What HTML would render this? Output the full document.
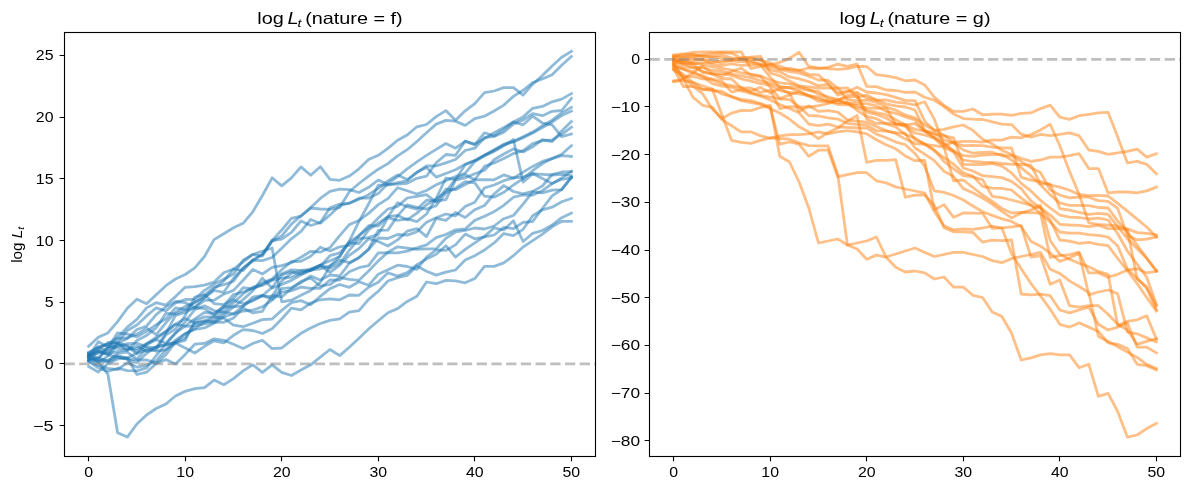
<!DOCTYPE html><html><head><meta charset="utf-8"><style>html,body{margin:0;padding:0;background:#fff;width:1189px;height:490px;overflow:hidden}svg{display:block;will-change:transform}</style></head><body>
<svg width="1189" height="490" viewBox="0 0 1189 490" font-family='"Liberation Sans", sans-serif'>
<rect width="1189" height="490" fill="#fff"/>
<g fill="none" stroke="#1f77b4" stroke-opacity="0.5" stroke-width="2.78" stroke-linejoin="round" stroke-linecap="square">
<path d="M88.6 346.3 L98.3 337.3 L107.9 332.9 L117.6 321.6 L127.3 308.2 L136.9 299.2 L146.6 303.7 L156.2 294.7 L165.9 285.7 L175.5 279.0 L185.2 274.5 L194.8 267.8 L204.5 256.5 L214.1 239.6 L223.8 233.7 L233.5 227.8 L243.1 223.3 L252.8 211.8 L262.4 195.5 L272.1 177.8 L281.7 185.9 L291.4 177.9 L301.0 166.9 L310.7 175.2 L320.3 166.7 L330.0 179.4 L339.7 180.3 L349.3 176.1 L359.0 168.8 L368.6 159.6 L378.3 155.3 L387.9 148.4 L397.6 140.2 L407.2 135.0 L416.9 126.8 L426.5 124.5 L436.2 116.6 L445.9 110.6 L455.5 120.2 L465.2 110.8 L474.8 103.6 L484.5 92.7 L494.1 91.0 L503.8 87.6 L513.4 87.7 L523.1 95.2 L532.7 84.2 L542.4 75.6 L552.1 66.0 L561.7 57.3 L571.4 51.3"/>
<path d="M88.6 352.4 L98.3 347.4 L107.9 344.2 L117.6 337.5 L127.3 327.1 L136.9 319.4 L146.6 307.9 L156.2 302.7 L165.9 305.1 L175.5 296.6 L185.2 287.3 L194.8 286.6 L204.5 285.1 L214.1 282.1 L223.8 272.8 L233.5 269.0 L243.1 270.5 L252.8 259.8 L262.4 254.4 L272.1 240.4 L281.7 230.0 L291.4 218.3 L301.0 216.2 L310.7 208.0 L320.3 209.0 L330.0 209.3 L339.7 207.5 L349.3 191.7 L359.0 183.5 L368.6 176.1 L378.3 169.2 L387.9 163.6 L397.6 155.8 L407.2 149.7 L416.9 141.5 L426.5 132.8 L436.2 124.1 L445.9 120.4 L455.5 121.2 L465.2 125.4 L474.8 118.6 L484.5 116.2 L494.1 111.0 L503.8 105.1 L513.4 96.4 L523.1 90.3 L532.7 82.5 L542.4 79.0 L552.1 74.7 L561.7 65.2 L571.4 56.5"/>
<path d="M88.6 353.0 L98.3 347.1 L107.9 344.2 L117.6 342.3 L127.3 330.5 L136.9 325.0 L146.6 315.9 L156.2 307.8 L165.9 311.0 L175.5 302.9 L185.2 299.5 L194.8 299.3 L204.5 290.3 L214.1 284.1 L223.8 279.2 L233.5 274.1 L243.1 260.3 L252.8 254.4 L262.4 256.1 L272.1 240.5 L281.7 239.2 L291.4 232.4 L301.0 221.0 L310.7 225.5 L320.3 222.5 L330.0 207.8 L339.7 204.1 L349.3 203.4 L359.0 198.2 L368.6 198.1 L378.3 193.6 L387.9 183.5 L397.6 176.6 L407.2 168.8 L416.9 161.9 L426.5 155.4 L436.2 149.4 L445.9 143.5 L455.5 148.2 L465.2 141.3 L474.8 144.1 L484.5 138.6 L494.1 132.7 L503.8 127.6 L513.4 122.0 L523.1 116.9 L532.7 108.3 L542.4 106.4 L552.1 101.8 L561.7 99.1 L571.4 93.6"/>
<path d="M88.6 353.5 L98.3 351.3 L107.9 353.8 L117.6 343.5 L127.3 338.5 L136.9 329.5 L146.6 326.0 L156.2 314.6 L165.9 306.9 L175.5 301.5 L185.2 302.6 L194.8 307.4 L204.5 297.3 L214.1 290.5 L223.8 292.3 L233.5 278.2 L243.1 268.2 L252.8 260.3 L262.4 260.6 L272.1 257.5 L281.7 248.2 L291.4 238.8 L301.0 231.4 L310.7 219.5 L320.3 223.2 L330.0 214.9 L339.7 205.7 L349.3 203.0 L359.0 199.3 L368.6 194.7 L378.3 188.3 L387.9 180.9 L397.6 174.9 L407.2 179.5 L416.9 172.4 L426.5 166.0 L436.2 165.9 L445.9 162.9 L455.5 159.5 L465.2 150.5 L474.8 148.2 L484.5 137.5 L494.1 136.4 L503.8 132.3 L513.4 124.1 L523.1 120.0 L532.7 113.7 L542.4 115.7 L552.1 111.3 L561.7 110.5 L571.4 98.5"/>
<path d="M88.6 354.1 L98.3 357.7 L107.9 349.1 L117.6 338.3 L127.3 338.0 L136.9 334.1 L146.6 328.2 L156.2 334.7 L165.9 322.8 L175.5 312.1 L185.2 306.4 L194.8 302.7 L204.5 295.0 L214.1 287.1 L223.8 284.7 L233.5 281.2 L243.1 268.2 L252.8 260.9 L262.4 254.4 L272.1 241.2 L281.7 236.0 L291.4 224.1 L301.0 215.8 L310.7 207.6 L320.3 198.4 L330.0 191.4 L339.7 189.2 L349.3 189.6 L359.0 192.5 L368.6 187.3 L378.3 180.0 L387.9 184.4 L397.6 184.2 L407.2 183.3 L416.9 178.3 L426.5 176.2 L436.2 162.8 L445.9 154.5 L455.5 155.3 L465.2 141.1 L474.8 144.7 L484.5 132.8 L494.1 135.9 L503.8 129.4 L513.4 122.0 L523.1 124.8 L532.7 116.2 L542.4 123.0 L552.1 124.8 L561.7 136.7 L571.4 134.0"/>
<path d="M88.6 354.7 L98.3 353.3 L107.9 348.0 L117.6 332.8 L127.3 334.2 L136.9 336.8 L146.6 331.4 L156.2 324.7 L165.9 318.8 L175.5 307.9 L185.2 309.5 L194.8 302.1 L204.5 297.7 L214.1 288.8 L223.8 281.0 L233.5 269.2 L243.1 261.8 L252.8 254.5 L262.4 251.2 L272.1 248.0 L281.7 301.8 L291.4 300.2 L301.0 295.3 L310.7 290.4 L320.3 282.5 L330.0 266.1 L339.7 256.4 L349.3 241.1 L359.0 221.4 L368.6 204.0 L378.3 185.2 L387.9 185.1 L397.6 182.7 L407.2 180.8 L416.9 172.3 L426.5 167.4 L436.2 177.1 L445.9 173.5 L455.5 169.8 L465.2 164.3 L474.8 160.6 L484.5 155.1 L494.1 149.6 L503.8 144.1 L513.4 141.3 L523.1 136.7 L532.7 132.1 L542.4 125.7 L552.1 120.2 L561.7 112.9 L571.4 107.3"/>
<path d="M88.6 355.3 L98.3 350.0 L107.9 342.5 L117.6 343.2 L127.3 350.5 L136.9 340.5 L146.6 335.4 L156.2 327.8 L165.9 313.4 L175.5 314.0 L185.2 310.0 L194.8 307.6 L204.5 300.3 L214.1 300.2 L223.8 294.1 L233.5 290.4 L243.1 280.3 L252.8 269.5 L262.4 274.0 L272.1 267.4 L281.7 265.7 L291.4 262.7 L301.0 257.2 L310.7 251.3 L320.3 252.2 L330.0 247.6 L339.7 235.6 L349.3 224.6 L359.0 220.5 L368.6 213.4 L378.3 204.6 L387.9 198.6 L397.6 187.7 L407.2 190.8 L416.9 194.0 L426.5 190.5 L436.2 184.8 L445.9 180.6 L455.5 176.6 L465.2 173.2 L474.8 161.5 L484.5 156.0 L494.1 150.5 L503.8 145.0 L513.4 141.9 L523.1 137.7 L532.7 133.1 L542.4 127.6 L552.1 122.0 L561.7 115.6 L571.4 111.0"/>
<path d="M88.6 355.9 L98.3 359.4 L107.9 346.4 L117.6 346.1 L127.3 343.6 L136.9 343.3 L146.6 346.8 L156.2 347.9 L165.9 333.3 L175.5 315.4 L185.2 312.5 L194.8 307.5 L204.5 308.6 L214.1 314.8 L223.8 306.0 L233.5 294.5 L243.1 292.0 L252.8 288.3 L262.4 282.8 L272.1 279.0 L281.7 269.8 L291.4 261.5 L301.0 261.3 L310.7 256.3 L320.3 247.2 L330.0 251.0 L339.7 246.8 L349.3 245.4 L359.0 235.7 L368.6 227.9 L378.3 218.1 L387.9 209.0 L397.6 206.4 L407.2 198.0 L416.9 196.3 L426.5 194.6 L436.2 202.1 L445.9 189.1 L455.5 189.7 L465.2 184.5 L474.8 179.8 L484.5 166.4 L494.1 162.9 L503.8 158.6 L513.4 153.6 L523.1 150.7 L532.7 143.6 L542.4 140.7 L552.1 140.0 L561.7 134.3 L571.4 127.1"/>
<path d="M88.6 356.4 L98.3 351.6 L107.9 354.0 L117.6 351.4 L127.3 349.8 L136.9 346.0 L146.6 351.3 L156.2 349.6 L165.9 334.8 L175.5 329.0 L185.2 315.6 L194.8 297.0 L204.5 294.7 L214.1 303.6 L223.8 304.7 L233.5 298.6 L243.1 287.6 L252.8 289.0 L262.4 284.6 L272.1 279.6 L281.7 273.9 L291.4 269.8 L301.0 270.3 L310.7 269.3 L320.3 266.3 L330.0 255.7 L339.7 252.9 L349.3 242.8 L359.0 243.5 L368.6 229.9 L378.3 223.2 L387.9 216.9 L397.6 202.7 L407.2 206.7 L416.9 209.2 L426.5 200.2 L436.2 201.1 L445.9 199.6 L455.5 180.1 L465.2 177.8 L474.8 173.7 L484.5 170.2 L494.1 159.7 L503.8 154.0 L513.4 148.9 L523.1 152.0 L532.7 146.8 L542.4 139.6 L552.1 141.6 L561.7 131.0 L571.4 121.5"/>
<path d="M88.6 357.0 L98.3 341.7 L107.9 346.7 L117.6 348.1 L127.3 349.2 L136.9 348.8 L146.6 343.5 L156.2 338.9 L165.9 331.4 L175.5 324.2 L185.2 318.6 L194.8 323.0 L204.5 321.7 L214.1 316.6 L223.8 308.5 L233.5 300.0 L243.1 303.8 L252.8 300.9 L262.4 295.5 L272.1 287.5 L281.7 275.0 L291.4 271.8 L301.0 274.2 L310.7 269.1 L320.3 264.9 L330.0 260.8 L339.7 256.5 L349.3 242.0 L359.0 235.7 L368.6 225.6 L378.3 226.0 L387.9 216.6 L397.6 215.4 L407.2 219.8 L416.9 213.1 L426.5 204.8 L436.2 198.9 L445.9 191.9 L455.5 179.0 L465.2 174.7 L474.8 179.8 L484.5 179.6 L494.1 179.8 L503.8 174.9 L513.4 178.2 L523.1 172.1 L532.7 166.4 L542.4 161.4 L552.1 158.6 L561.7 155.7 L571.4 156.4"/>
<path d="M88.6 357.6 L98.3 347.5 L107.9 351.7 L117.6 342.8 L127.3 345.8 L136.9 351.5 L146.6 344.7 L156.2 339.7 L165.9 343.1 L175.5 333.6 L185.2 321.7 L194.8 309.6 L204.5 305.8 L214.1 310.6 L223.8 312.4 L233.5 302.7 L243.1 293.9 L252.8 287.2 L262.4 285.3 L272.1 280.4 L281.7 278.0 L291.4 277.3 L301.0 273.0 L310.7 270.2 L320.3 268.9 L330.0 265.9 L339.7 260.2 L349.3 262.7 L359.0 257.5 L368.6 249.1 L378.3 230.3 L387.9 230.1 L397.6 215.8 L407.2 204.8 L416.9 207.4 L426.5 209.1 L436.2 205.7 L445.9 192.9 L455.5 188.2 L465.2 181.6 L474.8 182.9 L484.5 196.2 L494.1 197.2 L503.8 192.3 L513.4 185.0 L523.1 178.6 L532.7 170.7 L542.4 163.6 L552.1 158.6 L561.7 154.3 L571.4 145.7"/>
<path d="M88.6 358.1 L98.3 359.7 L107.9 360.5 L117.6 355.5 L127.3 358.0 L136.9 353.0 L146.6 350.4 L156.2 347.4 L165.9 344.7 L175.5 332.5 L185.2 326.3 L194.8 325.9 L204.5 324.0 L214.1 322.4 L223.8 315.0 L233.5 306.7 L243.1 306.2 L252.8 299.8 L262.4 295.9 L272.1 296.6 L281.7 281.0 L291.4 273.2 L301.0 271.2 L310.7 270.5 L320.3 265.1 L330.0 268.2 L339.7 263.5 L349.3 250.3 L359.0 238.7 L368.6 237.6 L378.3 234.4 L387.9 217.7 L397.6 220.5 L407.2 218.8 L416.9 221.6 L426.5 214.0 L436.2 198.5 L445.9 178.0 L455.5 179.6 L465.2 164.8 L474.8 160.6 L484.5 155.1 L494.1 151.4 L503.8 145.9 L513.4 139.5 L523.1 182.1 L532.7 173.6 L542.4 178.6 L552.1 183.6 L561.7 179.3 L571.4 177.9"/>
<path d="M88.6 359.7 L98.3 358.0 L107.9 361.1 L117.6 353.3 L127.3 352.1 L136.9 359.2 L146.6 348.2 L156.2 351.2 L165.9 349.8 L175.5 340.1 L185.2 333.6 L194.8 329.5 L204.5 327.9 L214.1 323.3 L223.8 317.0 L233.5 313.8 L243.1 306.2 L252.8 297.1 L262.4 295.4 L272.1 299.3 L281.7 288.7 L291.4 287.7 L301.0 282.8 L310.7 276.0 L320.3 280.1 L330.0 275.0 L339.7 276.0 L349.3 263.4 L359.0 257.8 L368.6 249.5 L378.3 238.0 L387.9 238.5 L397.6 234.5 L407.2 235.1 L416.9 231.8 L426.5 222.3 L436.2 217.7 L445.9 214.0 L455.5 215.8 L465.2 206.4 L474.8 202.2 L484.5 187.9 L494.1 185.0 L503.8 180.7 L513.4 177.9 L523.1 177.1 L532.7 173.6 L542.4 174.3 L552.1 175.0 L561.7 174.3 L571.4 175.7"/>
<path d="M88.6 358.3 L98.3 362.4 L107.9 356.1 L117.6 345.4 L127.3 346.2 L136.9 354.0 L146.6 344.2 L156.2 337.0 L165.9 331.8 L175.5 324.4 L185.2 326.0 L194.8 318.9 L204.5 312.3 L214.1 313.5 L223.8 306.7 L233.5 307.0 L243.1 299.6 L252.8 290.8 L262.4 278.2 L272.1 287.9 L281.7 284.4 L291.4 280.4 L301.0 274.8 L310.7 270.4 L320.3 265.3 L330.0 272.3 L339.7 265.3 L349.3 255.3 L359.0 248.5 L368.6 238.7 L378.3 241.5 L387.9 246.0 L397.6 239.9 L407.2 231.2 L416.9 228.6 L426.5 236.6 L436.2 218.4 L445.9 220.3 L455.5 212.5 L465.2 217.5 L474.8 209.7 L484.5 205.5 L494.1 194.0 L503.8 185.6 L513.4 191.5 L523.1 193.9 L532.7 191.4 L542.4 186.0 L552.1 174.5 L561.7 172.0 L571.4 171.7"/>
<path d="M88.6 359.9 L98.3 361.1 L107.9 362.2 L117.6 357.2 L127.3 358.5 L136.9 360.0 L146.6 359.9 L156.2 363.3 L165.9 354.6 L175.5 342.1 L185.2 333.9 L194.8 328.5 L204.5 322.2 L214.1 320.1 L223.8 312.0 L233.5 313.9 L243.1 311.0 L252.8 310.2 L262.4 306.8 L272.1 300.1 L281.7 292.1 L291.4 290.6 L301.0 287.1 L310.7 288.4 L320.3 288.3 L330.0 280.0 L339.7 280.1 L349.3 271.7 L359.0 267.7 L368.6 265.6 L378.3 252.8 L387.9 252.6 L397.6 252.8 L407.2 251.1 L416.9 247.8 L426.5 244.8 L436.2 237.6 L445.9 234.5 L455.5 229.8 L465.2 229.0 L474.8 220.4 L484.5 216.3 L494.1 211.7 L503.8 205.3 L513.4 197.2 L523.1 195.0 L532.7 195.0 L542.4 190.7 L552.1 183.6 L561.7 177.9 L571.4 171.4"/>
<path d="M88.6 360.5 L98.3 351.2 L107.9 354.8 L117.6 357.0 L127.3 359.5 L136.9 362.6 L146.6 353.3 L156.2 346.4 L165.9 344.9 L175.5 342.1 L185.2 338.0 L194.8 323.2 L204.5 320.7 L214.1 322.0 L223.8 322.3 L233.5 318.0 L243.1 308.0 L252.8 312.9 L262.4 311.3 L272.1 295.4 L281.7 297.0 L291.4 288.6 L301.0 281.3 L310.7 278.0 L320.3 286.2 L330.0 284.5 L339.7 277.5 L349.3 279.3 L359.0 280.3 L368.6 271.0 L378.3 260.9 L387.9 252.2 L397.6 246.8 L407.2 248.2 L416.9 249.4 L426.5 248.9 L436.2 248.9 L445.9 238.3 L455.5 232.0 L465.2 230.5 L474.8 228.0 L484.5 229.0 L494.1 226.0 L503.8 218.7 L513.4 215.5 L523.1 204.1 L532.7 191.8 L542.4 192.9 L552.1 190.2 L561.7 189.6 L571.4 177.0"/>
<path d="M88.6 361.0 L98.3 365.4 L107.9 368.3 L117.6 369.6 L127.3 362.6 L136.9 367.1 L146.6 365.4 L156.2 360.6 L165.9 350.0 L175.5 342.8 L185.2 340.3 L194.8 320.7 L204.5 316.9 L214.1 317.0 L223.8 318.1 L233.5 325.2 L243.1 326.7 L252.8 323.2 L262.4 319.6 L272.1 319.0 L281.7 310.4 L291.4 302.7 L301.0 300.6 L310.7 304.8 L320.3 296.4 L330.0 288.6 L339.7 284.5 L349.3 287.3 L359.0 281.8 L368.6 285.3 L378.3 274.2 L387.9 269.7 L397.6 265.2 L407.2 266.5 L416.9 269.4 L426.5 257.0 L436.2 249.9 L445.9 250.4 L455.5 244.9 L465.2 234.1 L474.8 238.8 L484.5 236.9 L494.1 235.0 L503.8 227.3 L513.4 228.7 L523.1 222.4 L532.7 221.5 L542.4 208.5 L552.1 195.8 L561.7 189.5 L571.4 177.8"/>
<path d="M88.6 361.6 L98.3 367.8 L107.9 371.5 L117.6 368.2 L127.3 370.7 L136.9 370.8 L146.6 367.8 L156.2 355.5 L165.9 344.3 L175.5 343.1 L185.2 348.0 L194.8 353.0 L204.5 346.4 L214.1 340.8 L223.8 343.0 L233.5 335.3 L243.1 329.6 L252.8 330.5 L262.4 333.5 L272.1 328.7 L281.7 319.0 L291.4 308.1 L301.0 309.8 L310.7 303.0 L320.3 299.8 L330.0 298.8 L339.7 299.8 L349.3 295.0 L359.0 295.3 L368.6 287.2 L378.3 282.3 L387.9 272.7 L397.6 276.1 L407.2 272.5 L416.9 264.6 L426.5 259.1 L436.2 254.3 L445.9 245.7 L455.5 257.1 L465.2 249.3 L474.8 242.9 L484.5 236.4 L494.1 227.9 L503.8 230.0 L513.4 220.7 L523.1 241.5 L532.7 233.3 L542.4 230.5 L552.1 225.0 L561.7 217.7 L571.4 213.1"/>
<path d="M88.6 366.5 L98.3 372.0 L107.9 363.8 L117.6 358.9 L127.3 358.0 L136.9 374.5 L146.6 372.2 L156.2 363.4 L165.9 359.6 L175.5 363.9 L185.2 354.4 L194.8 344.2 L204.5 343.4 L214.1 338.8 L223.8 340.3 L233.5 344.3 L243.1 348.6 L252.8 343.4 L262.4 340.3 L272.1 348.6 L281.7 348.0 L291.4 340.3 L301.0 333.3 L310.7 328.1 L320.3 323.5 L330.0 320.4 L339.7 318.8 L349.3 312.2 L359.0 310.6 L368.6 299.4 L378.3 291.2 L387.9 281.0 L397.6 277.7 L407.2 275.4 L416.9 266.0 L426.5 271.2 L436.2 275.1 L445.9 272.2 L455.5 270.0 L465.2 260.0 L474.8 255.7 L484.5 250.0 L494.1 242.9 L503.8 233.6 L513.4 235.7 L523.1 229.3 L532.7 215.8 L542.4 209.8 L552.1 207.2 L561.7 201.7 L571.4 198.4"/>
<path d="M88.6 356.0 L98.3 362.0 L107.9 374.3 L117.6 432.7 L127.3 437.1 L136.9 424.0 L146.6 415.0 L156.2 408.5 L165.9 404.0 L175.5 396.0 L185.2 391.3 L194.8 388.7 L204.5 387.6 L214.1 380.1 L223.8 384.7 L233.5 378.6 L243.1 370.9 L252.8 364.8 L262.4 372.4 L272.1 364.8 L281.7 372.4 L291.4 375.5 L301.0 370.0 L310.7 364.8 L320.3 357.1 L330.0 349.5 L339.7 355.6 L349.3 347.3 L359.0 338.2 L368.6 329.0 L378.3 320.8 L387.9 312.7 L397.6 308.6 L407.2 301.4 L416.9 296.3 L426.5 282.0 L436.2 283.7 L445.9 280.4 L455.5 280.9 L465.2 282.8 L474.8 278.6 L484.5 266.4 L494.1 266.4 L503.8 262.9 L513.4 255.7 L523.1 247.0 L532.7 240.6 L542.4 234.2 L552.1 226.8 L561.7 221.3 L571.4 221.3"/>
</g>
<g fill="none" stroke="#ff7f0e" stroke-opacity="0.5" stroke-width="2.78" stroke-linejoin="round" stroke-linecap="square">
<path d="M673.6 55.0 L683.3 54.0 L692.9 52.4 L702.6 52.0 L712.3 52.0 L721.9 52.0 L731.6 52.0 L741.2 52.0 L750.9 68.6 L760.5 66.5 L770.2 64.5 L779.8 62.4 L789.5 58.4 L799.1 52.2 L808.8 66.5 L818.5 67.8 L828.1 68.6 L837.8 69.4 L847.4 68.6 L857.1 66.5 L866.7 66.5 L876.4 74.7 L886.0 75.9 L895.7 77.6 L905.3 80.8 L915.0 80.0 L924.7 84.9 L934.3 97.1 L944.0 105.3 L953.6 111.4 L963.3 111.3 L972.9 109.0 L982.6 114.8 L992.2 114.1 L1001.9 114.1 L1011.5 115.4 L1021.2 113.4 L1030.9 112.9 L1040.5 108.6 L1050.2 105.1 L1059.8 117.1 L1069.5 119.4 L1079.1 115.7 L1088.8 114.3 L1098.4 112.9 L1108.1 112.3 L1117.7 137.1 L1127.4 162.9 L1137.1 161.4 L1146.7 164.3 L1156.4 173.7"/>
<path d="M673.6 55.8 L683.3 57.1 L692.9 56.9 L702.6 54.9 L712.3 53.7 L721.9 52.6 L731.6 53.3 L741.2 57.9 L750.9 57.8 L760.5 60.2 L770.2 62.9 L779.8 69.3 L789.5 68.3 L799.1 70.3 L808.8 68.0 L818.5 68.6 L828.1 67.3 L837.8 64.1 L847.4 66.4 L857.1 64.0 L866.7 86.4 L876.4 86.6 L886.0 90.0 L895.7 90.5 L905.3 92.3 L915.0 92.0 L924.7 97.2 L934.3 100.3 L944.0 106.6 L953.6 114.1 L963.3 118.6 L972.9 119.2 L982.6 119.5 L992.2 121.8 L1001.9 124.2 L1011.5 124.6 L1021.2 134.2 L1030.9 137.1 L1040.5 134.3 L1050.2 135.7 L1059.8 134.3 L1069.5 132.9 L1079.1 135.7 L1088.8 150.0 L1098.4 151.4 L1108.1 154.3 L1117.7 152.9 L1127.4 151.4 L1137.1 149.1 L1146.7 157.1 L1156.4 153.7"/>
<path d="M673.6 56.7 L683.3 54.6 L692.9 54.4 L702.6 56.8 L712.3 56.5 L721.9 55.2 L731.6 57.8 L741.2 58.8 L750.9 61.2 L760.5 64.5 L770.2 65.0 L779.8 66.0 L789.5 69.7 L799.1 70.4 L808.8 74.3 L818.5 75.0 L828.1 83.6 L837.8 95.2 L847.4 92.0 L857.1 87.3 L866.7 92.0 L876.4 93.0 L886.0 94.7 L895.7 97.4 L905.3 100.3 L915.0 100.7 L924.7 121.2 L934.3 130.4 L944.0 129.4 L953.6 126.9 L963.3 125.0 L972.9 130.4 L982.6 139.2 L992.2 143.8 L1001.9 150.3 L1011.5 154.6 L1021.2 158.2 L1030.9 161.4 L1040.5 160.0 L1050.2 157.1 L1059.8 157.1 L1069.5 155.7 L1079.1 153.7 L1088.8 168.6 L1098.4 168.6 L1108.1 192.9 L1117.7 192.0 L1127.4 192.0 L1137.1 192.9 L1146.7 190.9 L1156.4 187.1"/>
<path d="M673.6 57.5 L683.3 57.2 L692.9 54.9 L702.6 55.8 L712.3 56.9 L721.9 57.8 L731.6 59.5 L741.2 59.7 L750.9 59.9 L760.5 60.0 L770.2 67.1 L779.8 69.2 L789.5 71.7 L799.1 72.9 L808.8 76.2 L818.5 80.0 L828.1 80.4 L837.8 88.3 L847.4 87.8 L857.1 97.7 L866.7 95.0 L876.4 100.1 L886.0 99.9 L895.7 102.1 L905.3 103.1 L915.0 105.0 L924.7 101.8 L934.3 119.2 L944.0 145.5 L953.6 142.1 L963.3 141.4 L972.9 141.3 L982.6 142.1 L992.2 139.8 L1001.9 140.1 L1011.5 137.1 L1021.2 137.8 L1030.9 134.6 L1040.5 129.9 L1050.2 124.3 L1059.8 145.7 L1069.5 171.4 L1079.1 194.3 L1088.8 222.9 L1098.4 224.3 L1108.1 225.1 L1117.7 226.2 L1127.4 228.9 L1137.1 232.6 L1146.7 233.4 L1156.4 234.9"/>
<path d="M673.6 58.3 L683.3 64.0 L692.9 63.5 L702.6 62.8 L712.3 62.6 L721.9 60.4 L731.6 60.9 L741.2 61.6 L750.9 62.6 L760.5 64.4 L770.2 70.0 L779.8 71.8 L789.5 76.9 L799.1 78.9 L808.8 81.6 L818.5 85.7 L828.1 84.5 L837.8 92.7 L847.4 91.0 L857.1 92.5 L866.7 97.9 L876.4 100.1 L886.0 103.9 L895.7 105.8 L905.3 107.0 L915.0 110.0 L924.7 130.3 L934.3 133.2 L944.0 139.7 L953.6 143.1 L963.3 145.7 L972.9 145.5 L982.6 145.7 L992.2 147.1 L1001.9 147.8 L1011.5 148.0 L1021.2 177.4 L1030.9 180.1 L1040.5 181.6 L1050.2 185.0 L1059.8 187.1 L1069.5 190.2 L1079.1 194.5 L1088.8 195.7 L1098.4 195.3 L1108.1 196.0 L1117.7 203.4 L1127.4 211.2 L1137.1 219.1 L1146.7 227.0 L1156.4 237.0"/>
<path d="M673.6 59.2 L683.3 59.3 L692.9 58.1 L702.6 59.5 L712.3 60.7 L721.9 62.9 L731.6 60.1 L741.2 58.2 L750.9 57.1 L760.5 56.3 L770.2 72.9 L779.8 75.8 L789.5 80.9 L799.1 85.8 L808.8 86.8 L818.5 88.0 L828.1 88.1 L837.8 87.9 L847.4 99.8 L857.1 101.0 L866.7 100.0 L876.4 102.4 L886.0 107.1 L895.7 110.1 L905.3 114.9 L915.0 117.9 L924.7 124.9 L934.3 129.9 L944.0 135.0 L953.6 142.6 L963.3 150.0 L972.9 153.1 L982.6 152.5 L992.2 152.2 L1001.9 155.8 L1011.5 155.7 L1021.2 161.3 L1030.9 167.8 L1040.5 172.5 L1050.2 190.0 L1059.8 195.0 L1069.5 197.9 L1079.1 197.0 L1088.8 197.2 L1098.4 200.6 L1108.1 201.4 L1117.7 208.4 L1127.4 235.7 L1137.1 239.9 L1146.7 239.1 L1156.4 237.0"/>
<path d="M673.6 60.0 L683.3 61.0 L692.9 60.5 L702.6 59.5 L712.3 64.4 L721.9 65.5 L731.6 63.9 L741.2 65.4 L750.9 65.1 L760.5 65.2 L770.2 77.1 L779.8 87.5 L789.5 87.5 L799.1 88.4 L808.8 90.5 L818.5 91.4 L828.1 98.5 L837.8 101.0 L847.4 103.5 L857.1 103.7 L866.7 103.6 L876.4 105.9 L886.0 111.4 L895.7 113.3 L905.3 117.0 L915.0 120.0 L924.7 130.9 L934.3 138.1 L944.0 144.5 L953.6 151.0 L963.3 155.7 L972.9 156.3 L982.6 155.1 L992.2 154.6 L1001.9 154.1 L1011.5 160.0 L1021.2 167.7 L1030.9 175.7 L1040.5 184.8 L1050.2 194.9 L1059.8 202.9 L1069.5 205.4 L1079.1 205.3 L1088.8 205.6 L1098.4 207.5 L1108.1 208.0 L1117.7 221.1 L1127.4 231.8 L1137.1 245.1 L1146.7 258.0 L1156.4 270.7"/>
<path d="M673.6 60.8 L683.3 60.8 L692.9 63.2 L702.6 64.3 L712.3 66.9 L721.9 68.1 L731.6 70.0 L741.2 73.0 L750.9 74.2 L760.5 75.9 L770.2 80.0 L779.8 82.8 L789.5 83.9 L799.1 86.3 L808.8 89.3 L818.5 94.3 L828.1 96.9 L837.8 99.3 L847.4 103.3 L857.1 105.8 L866.7 107.9 L876.4 108.3 L886.0 107.8 L895.7 124.2 L905.3 125.0 L915.0 123.6 L924.7 131.1 L934.3 137.1 L944.0 142.7 L953.6 151.1 L963.3 160.0 L972.9 161.5 L982.6 162.1 L992.2 162.3 L1001.9 163.5 L1011.5 164.3 L1021.2 164.5 L1030.9 165.1 L1040.5 183.9 L1050.2 183.9 L1059.8 208.6 L1069.5 210.2 L1079.1 212.4 L1088.8 214.3 L1098.4 213.3 L1108.1 214.3 L1117.7 226.6 L1127.4 238.7 L1137.1 248.4 L1146.7 258.4 L1156.4 271.0"/>
<path d="M673.6 61.7 L683.3 63.8 L692.9 67.1 L702.6 67.7 L712.3 70.5 L721.9 70.7 L731.6 73.8 L741.2 76.0 L750.9 77.6 L760.5 80.8 L770.2 82.9 L779.8 86.7 L789.5 87.9 L799.1 91.5 L808.8 95.6 L818.5 97.1 L828.1 101.1 L837.8 104.5 L847.4 104.8 L857.1 107.9 L866.7 110.0 L876.4 112.5 L886.0 114.7 L895.7 119.8 L905.3 125.0 L915.0 129.3 L924.7 131.2 L934.3 134.2 L944.0 135.8 L953.6 137.9 L963.3 164.3 L972.9 164.7 L982.6 164.5 L992.2 163.5 L1001.9 166.1 L1011.5 172.9 L1021.2 183.4 L1030.9 190.9 L1040.5 200.3 L1050.2 208.0 L1059.8 215.0 L1069.5 217.1 L1079.1 217.5 L1088.8 219.0 L1098.4 218.2 L1108.1 220.0 L1117.7 233.8 L1127.4 251.0 L1137.1 264.2 L1146.7 277.3 L1156.4 304.4"/>
<path d="M673.6 62.5 L683.3 62.5 L692.9 64.1 L702.6 72.4 L712.3 73.6 L721.9 73.3 L731.6 75.5 L741.2 78.9 L750.9 81.1 L760.5 83.6 L770.2 85.0 L779.8 90.6 L789.5 92.4 L799.1 93.9 L808.8 95.8 L818.5 99.0 L828.1 102.3 L837.8 99.8 L847.4 97.6 L857.1 96.2 L866.7 112.1 L876.4 114.5 L886.0 118.0 L895.7 124.2 L905.3 126.5 L915.0 133.0 L924.7 135.0 L934.3 138.1 L944.0 147.6 L953.6 152.1 L963.3 168.0 L972.9 171.0 L982.6 175.7 L992.2 176.6 L1001.9 177.6 L1011.5 181.4 L1021.2 188.6 L1030.9 200.9 L1040.5 207.7 L1050.2 215.1 L1059.8 224.3 L1069.5 225.0 L1079.1 225.4 L1088.8 226.7 L1098.4 225.3 L1108.1 228.6 L1117.7 228.6 L1127.4 229.6 L1137.1 278.9 L1146.7 286.8 L1156.4 306.0"/>
<path d="M673.6 63.3 L683.3 78.8 L692.9 72.9 L702.6 66.0 L712.3 73.5 L721.9 75.9 L731.6 71.4 L741.2 68.2 L750.9 75.1 L760.5 76.6 L770.2 87.1 L779.8 98.6 L789.5 94.9 L799.1 91.5 L808.8 95.7 L818.5 101.4 L828.1 101.2 L837.8 102.8 L847.4 102.5 L857.1 110.5 L866.7 116.4 L876.4 118.7 L886.0 123.8 L895.7 126.8 L905.3 134.5 L915.0 137.9 L924.7 144.2 L934.3 150.8 L944.0 157.6 L953.6 164.2 L963.3 172.9 L972.9 176.0 L982.6 186.4 L992.2 188.1 L1001.9 188.3 L1011.5 190.0 L1021.2 198.1 L1030.9 205.0 L1040.5 213.6 L1050.2 222.0 L1059.8 232.0 L1069.5 233.2 L1079.1 233.2 L1088.8 234.7 L1098.4 235.3 L1108.1 237.0 L1117.7 246.0 L1127.4 269.0 L1137.1 278.2 L1146.7 288.3 L1156.4 309.5"/>
<path d="M673.6 64.2 L683.3 66.7 L692.9 67.8 L702.6 71.3 L712.3 74.3 L721.9 78.5 L731.6 79.0 L741.2 88.0 L750.9 87.9 L760.5 92.4 L770.2 90.0 L779.8 108.6 L789.5 106.7 L799.1 107.0 L808.8 107.1 L818.5 105.7 L828.1 103.7 L837.8 100.3 L847.4 95.4 L857.1 93.4 L866.7 119.0 L876.4 123.4 L886.0 123.3 L895.7 123.6 L905.3 124.5 L915.0 140.0 L924.7 143.9 L934.3 149.7 L944.0 161.5 L953.6 168.9 L963.3 175.7 L972.9 177.1 L982.6 179.6 L992.2 196.3 L1001.9 197.6 L1011.5 200.0 L1021.2 202.5 L1030.9 205.3 L1040.5 208.1 L1050.2 219.9 L1059.8 240.0 L1069.5 241.1 L1079.1 243.3 L1088.8 242.4 L1098.4 244.4 L1108.1 245.7 L1117.7 258.5 L1127.4 270.6 L1137.1 283.5 L1146.7 297.5 L1156.4 311.0"/>
<path d="M673.6 65.0 L683.3 76.9 L692.9 76.4 L702.6 78.9 L712.3 79.0 L721.9 81.1 L731.6 92.1 L741.2 89.7 L750.9 91.0 L760.5 87.4 L770.2 92.9 L779.8 88.4 L789.5 93.4 L799.1 111.5 L808.8 105.8 L818.5 111.4 L828.1 110.7 L837.8 112.1 L847.4 119.8 L857.1 121.1 L866.7 122.1 L876.4 126.6 L886.0 130.5 L895.7 133.5 L905.3 139.1 L915.0 143.6 L924.7 144.3 L934.3 145.6 L944.0 147.2 L953.6 180.9 L963.3 180.0 L972.9 187.5 L982.6 194.8 L992.2 201.4 L1001.9 208.4 L1011.5 212.9 L1021.2 212.5 L1030.9 212.7 L1040.5 213.2 L1050.2 257.4 L1059.8 255.7 L1069.5 254.7 L1079.1 252.2 L1088.8 272.9 L1098.4 272.9 L1108.1 277.1 L1117.7 274.3 L1127.4 270.0 L1137.1 268.6 L1146.7 272.9 L1156.4 271.4"/>
<path d="M673.6 65.8 L683.3 69.2 L692.9 73.3 L702.6 75.5 L712.3 80.1 L721.9 83.6 L731.6 85.6 L741.2 87.4 L750.9 92.7 L760.5 95.2 L770.2 97.1 L779.8 98.8 L789.5 99.7 L799.1 106.7 L808.8 115.5 L818.5 116.0 L828.1 117.8 L837.8 119.1 L847.4 123.3 L857.1 124.3 L866.7 125.0 L876.4 130.6 L886.0 131.2 L895.7 132.7 L905.3 133.4 L915.0 148.0 L924.7 154.1 L934.3 160.6 L944.0 171.2 L953.6 176.5 L963.3 188.6 L972.9 192.7 L982.6 198.0 L992.2 204.2 L1001.9 211.3 L1011.5 217.9 L1021.2 212.9 L1030.9 210.0 L1040.5 205.3 L1050.2 240.5 L1059.8 254.3 L1069.5 259.3 L1079.1 263.3 L1088.8 266.8 L1098.4 271.4 L1108.1 274.3 L1117.7 325.5 L1127.4 321.4 L1137.1 319.8 L1146.7 315.7 L1156.4 339.1"/>
<path d="M673.6 66.7 L683.3 69.1 L692.9 71.5 L702.6 76.9 L712.3 83.6 L721.9 86.2 L731.6 87.1 L741.2 90.8 L750.9 93.4 L760.5 96.2 L770.2 100.0 L779.8 104.6 L789.5 108.4 L799.1 112.8 L808.8 124.1 L818.5 125.7 L828.1 124.2 L837.8 127.0 L847.4 127.4 L857.1 128.0 L866.7 127.9 L876.4 134.1 L886.0 137.7 L895.7 142.1 L905.3 144.7 L915.0 153.6 L924.7 166.2 L934.3 190.9 L944.0 192.4 L953.6 195.5 L963.3 200.0 L972.9 206.0 L982.6 211.8 L992.2 215.4 L1001.9 218.9 L1011.5 221.4 L1021.2 226.6 L1030.9 241.2 L1040.5 246.2 L1050.2 253.1 L1059.8 261.4 L1069.5 258.0 L1079.1 253.3 L1088.8 294.8 L1098.4 292.0 L1108.1 290.0 L1117.7 293.8 L1127.4 332.0 L1137.1 333.8 L1146.7 337.9 L1156.4 342.0"/>
<path d="M673.6 80.8 L683.3 78.8 L692.9 97.1 L702.6 105.3 L712.3 107.3 L721.9 119.6 L731.6 125.7 L741.2 131.8 L750.9 131.8 L760.5 135.9 L770.2 138.0 L779.8 135.9 L789.5 134.7 L799.1 134.7 L808.8 133.9 L818.5 131.8 L828.1 133.9 L837.8 131.8 L847.4 130.6 L857.1 131.8 L866.7 133.9 L876.4 139.7 L886.0 144.8 L895.7 148.8 L905.3 155.9 L915.0 160.7 L924.7 160.4 L934.3 209.9 L944.0 204.6 L953.6 217.3 L963.3 212.9 L972.9 213.2 L982.6 213.3 L992.2 228.3 L1001.9 227.8 L1011.5 226.9 L1021.2 225.6 L1030.9 257.0 L1040.5 255.7 L1050.2 284.3 L1059.8 280.0 L1069.5 305.7 L1079.1 307.1 L1088.8 305.7 L1098.4 305.7 L1108.1 314.3 L1117.7 324.3 L1127.4 330.0 L1137.1 344.3 L1146.7 341.4 L1156.4 338.6"/>
<path d="M673.6 68.3 L683.3 86.5 L692.9 86.5 L702.6 89.2 L712.3 90.6 L721.9 91.4 L731.6 96.8 L741.2 100.7 L750.9 102.6 L760.5 104.4 L770.2 108.6 L779.8 113.0 L789.5 119.2 L799.1 126.8 L808.8 132.0 L818.5 138.6 L828.1 132.5 L837.8 128.1 L847.4 121.2 L857.1 115.5 L866.7 162.4 L876.4 160.4 L886.0 160.4 L895.7 159.6 L905.3 197.1 L915.0 195.1 L924.7 195.1 L934.3 205.3 L944.0 227.8 L953.6 231.8 L963.3 231.8 L972.9 232.5 L982.6 242.1 L992.2 240.2 L1001.9 240.7 L1011.5 240.0 L1021.2 294.0 L1030.9 294.8 L1040.5 294.1 L1050.2 295.7 L1059.8 310.0 L1069.5 312.9 L1079.1 310.0 L1088.8 307.1 L1098.4 324.3 L1108.1 330.0 L1117.7 327.1 L1127.4 322.9 L1137.1 347.1 L1146.7 347.1 L1156.4 352.9"/>
<path d="M673.6 69.2 L683.3 74.3 L692.9 82.6 L702.6 85.7 L712.3 89.2 L721.9 94.0 L731.6 96.7 L741.2 99.4 L750.9 100.7 L760.5 103.5 L770.2 107.3 L779.8 144.1 L789.5 142.0 L799.1 144.1 L808.8 156.3 L818.5 150.2 L828.1 150.2 L837.8 176.7 L847.4 174.7 L857.1 172.7 L866.7 172.7 L876.4 180.8 L886.0 182.9 L895.7 186.9 L905.3 189.0 L915.0 191.0 L924.7 193.1 L934.3 211.4 L944.0 225.7 L953.6 229.8 L963.3 228.8 L972.9 229.3 L982.6 228.0 L992.2 226.2 L1001.9 228.1 L1011.5 253.6 L1021.2 268.8 L1030.9 283.5 L1040.5 295.9 L1050.2 309.3 L1059.8 324.3 L1069.5 327.1 L1079.1 322.9 L1088.8 327.1 L1098.4 331.4 L1108.1 342.9 L1117.7 344.3 L1127.4 348.6 L1137.1 364.3 L1146.7 365.7 L1156.4 370.0"/>
<path d="M673.6 70.0 L683.3 77.9 L692.9 86.1 L702.6 93.7 L712.3 108.9 L721.9 118.5 L731.6 113.1 L741.2 110.3 L750.9 110.6 L760.5 107.5 L770.2 105.3 L779.8 156.3 L789.5 162.0 L799.1 182.0 L808.8 208.0 L818.5 243.0 L828.1 241.0 L837.8 239.0 L847.4 245.0 L857.1 243.0 L866.7 241.0 L876.4 237.0 L886.0 257.0 L895.7 254.0 L905.3 251.0 L915.0 248.0 L924.7 252.4 L934.3 256.5 L944.0 254.5 L953.6 252.4 L963.3 252.4 L972.9 254.5 L982.6 256.5 L992.2 260.6 L1001.9 262.7 L1011.5 258.6 L1021.2 256.5 L1030.9 254.5 L1040.5 252.4 L1050.2 269.2 L1059.8 273.4 L1069.5 280.9 L1079.1 286.5 L1088.8 292.7 L1098.4 336.4 L1108.1 341.4 L1117.7 346.8 L1127.4 352.1 L1137.1 357.4 L1146.7 364.4 L1156.4 368.5"/>
<path d="M673.6 81.6 L683.3 80.3 L692.9 82.4 L702.6 89.6 L712.3 89.0 L721.9 114.7 L731.6 140.4 L741.2 142.4 L750.9 143.4 L760.5 140.4 L770.2 138.0 L779.8 138.5 L789.5 139.2 L799.1 142.9 L808.8 145.7 L818.5 145.8 L828.1 146.0 L837.8 174.7 L847.4 244.9 L857.1 249.0 L866.7 259.2 L876.4 255.1 L886.0 257.1 L895.7 267.3 L905.3 272.0 L915.0 271.0 L924.7 272.9 L934.3 279.0 L944.0 277.0 L953.6 287.1 L963.3 287.1 L972.9 295.3 L982.6 297.5 L992.2 312.0 L1001.9 316.5 L1011.5 333.0 L1021.2 360.0 L1030.9 357.9 L1040.5 354.9 L1050.2 353.6 L1059.8 354.9 L1069.5 354.9 L1079.1 367.7 L1088.8 364.3 L1098.4 396.4 L1108.1 393.4 L1117.7 411.5 L1127.4 437.2 L1137.1 435.0 L1146.7 428.6 L1156.4 423.5"/>
</g>
<g stroke="#808080" stroke-opacity="0.5" stroke-width="2.78" stroke-dasharray="10.28 4.44" fill="none">
<path d="M64.5 363.90 H595.5"/>
<path d="M649.5 59.30 H1180.5"/>
</g>
<g fill="none" stroke="#000" stroke-width="1.11" stroke-linejoin="miter" stroke-linecap="square">
<rect x="64.5" y="32.5" width="531" height="424"/>
<rect x="649.5" y="32.5" width="531" height="424"/>
</g>
<path d="M88.50 456.5 V461.36 M673.50 456.5 V461.36 M185.50 456.5 V461.36 M770.50 456.5 V461.36 M281.50 456.5 V461.36 M866.50 456.5 V461.36 M378.50 456.5 V461.36 M963.50 456.5 V461.36 M474.50 456.5 V461.36 M1059.50 456.5 V461.36 M571.50 456.5 V461.36 M1156.50 456.5 V461.36 M64.5 425.50 H59.64 M64.5 363.50 H59.64 M64.5 302.50 H59.64 M64.5 240.50 H59.64 M64.5 178.50 H59.64 M64.5 117.50 H59.64 M64.5 55.50 H59.64 M649.5 59.50 H644.64 M649.5 106.50 H644.64 M649.5 154.50 H644.64 M649.5 202.50 H644.64 M649.5 250.50 H644.64 M649.5 297.50 H644.64 M649.5 345.50 H644.64 M649.5 393.50 H644.64 M649.5 440.50 H644.64" stroke="#000" stroke-width="1.11" fill="none"/>
<g font-size="13.89" fill="#000">
<text x="88.64" y="476.9" text-anchor="middle" textLength="8.84" lengthAdjust="spacingAndGlyphs">0</text>
<text x="673.64" y="476.9" text-anchor="middle" textLength="8.84" lengthAdjust="spacingAndGlyphs">0</text>
<text x="185.19" y="476.9" text-anchor="middle" textLength="17.67" lengthAdjust="spacingAndGlyphs">10</text>
<text x="770.18" y="476.9" text-anchor="middle" textLength="17.67" lengthAdjust="spacingAndGlyphs">10</text>
<text x="281.73" y="476.9" text-anchor="middle" textLength="17.67" lengthAdjust="spacingAndGlyphs">20</text>
<text x="866.73" y="476.9" text-anchor="middle" textLength="17.67" lengthAdjust="spacingAndGlyphs">20</text>
<text x="378.27" y="476.9" text-anchor="middle" textLength="17.67" lengthAdjust="spacingAndGlyphs">30</text>
<text x="963.27" y="476.9" text-anchor="middle" textLength="17.67" lengthAdjust="spacingAndGlyphs">30</text>
<text x="474.82" y="476.9" text-anchor="middle" textLength="17.67" lengthAdjust="spacingAndGlyphs">40</text>
<text x="1059.82" y="476.9" text-anchor="middle" textLength="17.67" lengthAdjust="spacingAndGlyphs">40</text>
<text x="571.37" y="476.9" text-anchor="middle" textLength="17.67" lengthAdjust="spacingAndGlyphs">50</text>
<text x="1156.37" y="476.9" text-anchor="middle" textLength="17.67" lengthAdjust="spacingAndGlyphs">50</text>
<text x="53.50" y="430.71" text-anchor="end" textLength="20.48" lengthAdjust="spacingAndGlyphs">−5</text>
<text x="53.50" y="369.00" text-anchor="end" textLength="8.84" lengthAdjust="spacingAndGlyphs">0</text>
<text x="53.50" y="307.29" text-anchor="end" textLength="8.84" lengthAdjust="spacingAndGlyphs">5</text>
<text x="53.50" y="245.58" text-anchor="end" textLength="17.67" lengthAdjust="spacingAndGlyphs">10</text>
<text x="53.50" y="183.87" text-anchor="end" textLength="17.67" lengthAdjust="spacingAndGlyphs">15</text>
<text x="53.50" y="122.16" text-anchor="end" textLength="17.67" lengthAdjust="spacingAndGlyphs">20</text>
<text x="53.50" y="60.45" text-anchor="end" textLength="17.67" lengthAdjust="spacingAndGlyphs">25</text>
<text x="640.10" y="64.40" text-anchor="end" textLength="8.84" lengthAdjust="spacingAndGlyphs">0</text>
<text x="640.10" y="112.07" text-anchor="end" textLength="29.31" lengthAdjust="spacingAndGlyphs">−10</text>
<text x="640.10" y="159.75" text-anchor="end" textLength="29.31" lengthAdjust="spacingAndGlyphs">−20</text>
<text x="640.10" y="207.42" text-anchor="end" textLength="29.31" lengthAdjust="spacingAndGlyphs">−30</text>
<text x="640.10" y="255.10" text-anchor="end" textLength="29.31" lengthAdjust="spacingAndGlyphs">−40</text>
<text x="640.10" y="302.78" text-anchor="end" textLength="29.31" lengthAdjust="spacingAndGlyphs">−50</text>
<text x="640.10" y="350.45" text-anchor="end" textLength="29.31" lengthAdjust="spacingAndGlyphs">−60</text>
<text x="640.10" y="398.13" text-anchor="end" textLength="29.31" lengthAdjust="spacingAndGlyphs">−70</text>
<text x="640.10" y="445.80" text-anchor="end" textLength="29.31" lengthAdjust="spacingAndGlyphs">−80</text>
</g>
<g transform="translate(330.0,0) scale(1.19,1) translate(-330.0,0)"><text x="330.0" y="24.2" font-size="16.67" text-anchor="middle">log <tspan font-style="italic" dx="-1.5">L</tspan><tspan font-style="italic" font-size="11.7" dy="2.5" dx="-0.8">t</tspan><tspan dy="-2.5" dx="-1.5"> (nature = f)</tspan></text></g>
<g transform="translate(915.05,0) scale(1.19,1) translate(-915.05,0)"><text x="915.05" y="24.2" font-size="16.67" text-anchor="middle">log <tspan font-style="italic" dx="-1.5">L</tspan><tspan font-style="italic" font-size="11.7" dy="2.5" dx="-0.8">t</tspan><tspan dy="-2.5" dx="-1.5"> (nature = g)</tspan></text></g>
<text transform="translate(22,244.8) rotate(-90) scale(1.1,1)" x="0" y="0" font-size="13.89" text-anchor="middle">log <tspan font-style="italic">L</tspan><tspan font-style="italic" font-size="9.7" dy="2.1">t</tspan></text>
</svg></body></html>
